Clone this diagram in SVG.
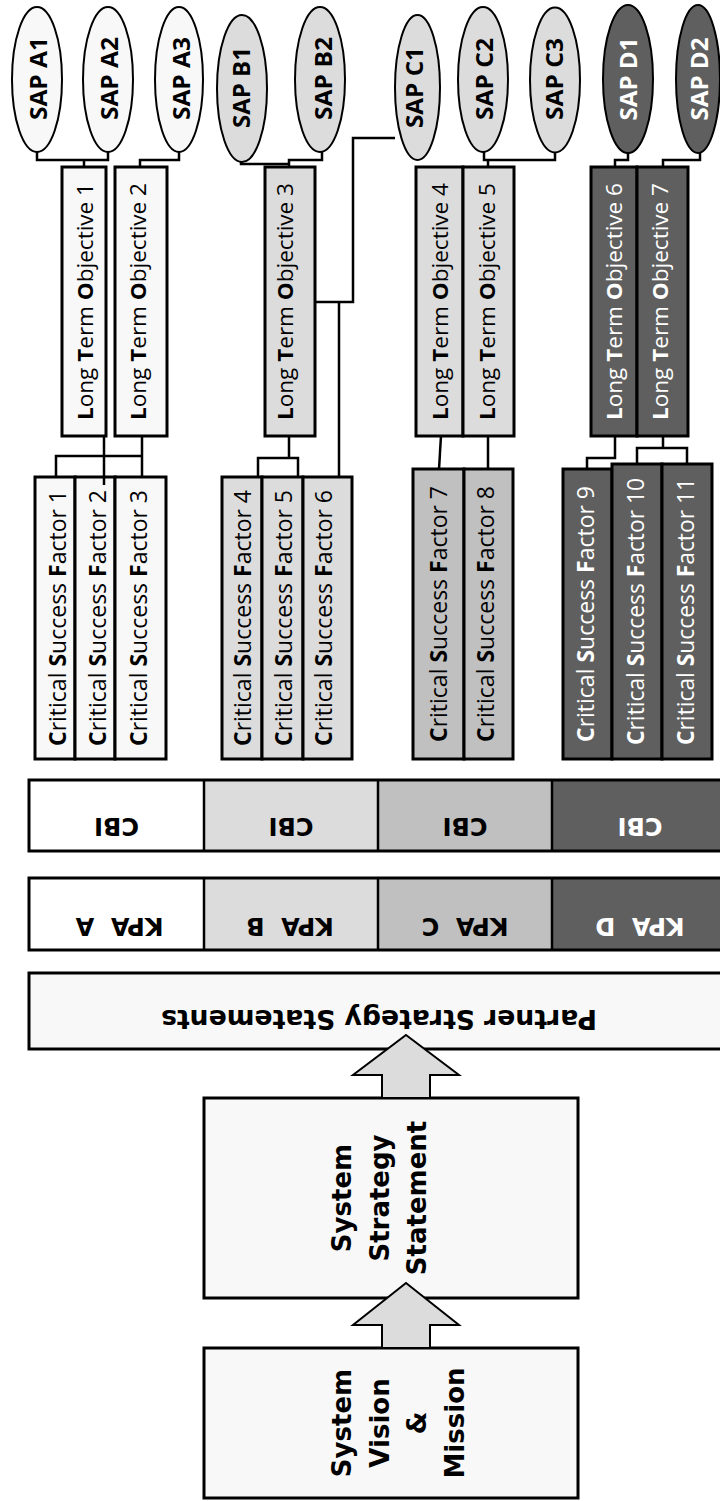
<svg xmlns="http://www.w3.org/2000/svg" width="720" height="1501" viewBox="0 0 720 1501">
<style>
.sap{stroke:#000;stroke-width:2}
.box{stroke:#000;stroke-width:3}
.div{stroke:#000;stroke-width:2.5}
.fa{fill:#f8f8f8}.fb{fill:#dcdcdc}.fc{fill:#c0c0c0}.fd{fill:#5f5f5f}.fw{fill:#fff}
.ts{font-family:"Open Sans","Liberation Sans",sans-serif;font-size:23px;font-weight:bold;text-anchor:middle}
.tl{font-family:"Open Sans","Liberation Sans",sans-serif;font-size:21.5px;text-anchor:middle}
.tc{font-family:"Open Sans","Liberation Sans",sans-serif;font-size:23px;text-anchor:middle}
.b{font-weight:bold}
.w{fill:#fff}
.k{font-family:"DejaVu Sans","Verdana",sans-serif;font-weight:bold;font-size:24px;text-anchor:middle}
.p{font-family:"DejaVu Sans","Verdana",sans-serif;font-weight:bold;font-size:26px;text-anchor:middle}
.con{fill:none;stroke:#000;stroke-width:2.5}
.arr{fill:#dcdcdc;stroke:#000;stroke-width:2}
</style>

<g id="sap-a1"><ellipse class="sap fa" cx="37" cy="79.5" rx="25" ry="72.5"/><text class="ts" transform="translate(47,78.5) rotate(-90)" textLength="83" lengthAdjust="spacingAndGlyphs">SAP A1</text></g>
<g id="sap-a2"><ellipse class="sap fa" cx="108" cy="79.5" rx="25" ry="72.5"/><text class="ts" transform="translate(118,78.5) rotate(-90)" textLength="83" lengthAdjust="spacingAndGlyphs">SAP A2</text></g>
<g id="sap-a3"><ellipse class="sap fa" cx="179" cy="79.5" rx="24" ry="72.5"/><text class="ts" transform="translate(190,78.5) rotate(-90)" textLength="83" lengthAdjust="spacingAndGlyphs">SAP A3</text></g>
<g id="sap-b1"><ellipse class="sap fb" cx="242" cy="88.5" rx="25" ry="73.5"/><text class="ts" transform="translate(250,87.5) rotate(-90)" textLength="81" lengthAdjust="spacingAndGlyphs">SAP B1</text></g>
<g id="sap-b2"><ellipse class="sap fb" cx="320" cy="79.5" rx="25" ry="72.5"/><text class="ts" transform="translate(332,78.5) rotate(-90)" textLength="83" lengthAdjust="spacingAndGlyphs">SAP B2</text></g>
<g id="sap-c1"><ellipse class="sap fb" cx="417.5" cy="87.5" rx="22.5" ry="72.5"/><text class="ts" transform="translate(423,87.5) rotate(-90)" textLength="81" lengthAdjust="spacingAndGlyphs">SAP C1</text></g>
<g id="sap-c2"><ellipse class="sap fb" cx="483" cy="79.5" rx="25" ry="72.5"/><text class="ts" transform="translate(493,79) rotate(-90)" textLength="82" lengthAdjust="spacingAndGlyphs">SAP C2</text></g>
<g id="sap-c3"><ellipse class="sap fb" cx="555" cy="80" rx="25" ry="72.5"/><text class="ts" transform="translate(563,79) rotate(-90)" textLength="82" lengthAdjust="spacingAndGlyphs">SAP C3</text></g>
<g id="sap-d1"><ellipse class="sap fd" cx="628" cy="79" rx="25" ry="74"/><text class="ts w" transform="translate(637,79) rotate(-90)" textLength="83" lengthAdjust="spacingAndGlyphs">SAP D1</text></g>
<g id="sap-d2"><ellipse class="sap fd" cx="698" cy="79" rx="22" ry="74"/><text class="ts w" transform="translate(708,79) rotate(-90)" textLength="83" lengthAdjust="spacingAndGlyphs">SAP D2</text></g>

<g id="lto1"><rect class="box fa" x="62" y="167" width="44" height="269"/><text class="tl" transform="translate(93,301.5) rotate(-90)" textLength="237" lengthAdjust="spacingAndGlyphs"><tspan class="b">L</tspan>ong <tspan class="b">T</tspan>erm <tspan class="b">O</tspan>bjective 1</text></g>
<g id="lto2"><rect class="box fa" x="115" y="167" width="52" height="269"/><text class="tl" transform="translate(146,301.5) rotate(-90)" textLength="237" lengthAdjust="spacingAndGlyphs"><tspan class="b">L</tspan>ong <tspan class="b">T</tspan>erm <tspan class="b">O</tspan>bjective 2</text></g>
<g id="lto3"><rect class="box fb" x="265" y="167" width="50" height="269"/><text class="tl" transform="translate(293,301.5) rotate(-90)" textLength="237" lengthAdjust="spacingAndGlyphs"><tspan class="b">L</tspan>ong <tspan class="b">T</tspan>erm <tspan class="b">O</tspan>bjective 3</text></g>
<g id="lto4"><rect class="box fb" x="416" y="167" width="47" height="269"/><text class="tl" transform="translate(448,301.5) rotate(-90)" textLength="237" lengthAdjust="spacingAndGlyphs"><tspan class="b">L</tspan>ong <tspan class="b">T</tspan>erm <tspan class="b">O</tspan>bjective 4</text></g>
<g id="lto5"><rect class="box fb" x="463" y="167" width="51" height="269"/><text class="tl" transform="translate(495,301.5) rotate(-90)" textLength="237" lengthAdjust="spacingAndGlyphs"><tspan class="b">L</tspan>ong <tspan class="b">T</tspan>erm <tspan class="b">O</tspan>bjective 5</text></g>
<g id="lto6"><rect class="box fd" x="591" y="167" width="46" height="269"/><text class="tl w" transform="translate(622,301.5) rotate(-90)" textLength="237" lengthAdjust="spacingAndGlyphs"><tspan class="b">L</tspan>ong <tspan class="b">T</tspan>erm <tspan class="b">O</tspan>bjective 6</text></g>
<g id="lto7"><rect class="box fd" x="637" y="167" width="51" height="269"/><text class="tl w" transform="translate(668,301.5) rotate(-90)" textLength="237" lengthAdjust="spacingAndGlyphs"><tspan class="b">L</tspan>ong <tspan class="b">T</tspan>erm <tspan class="b">O</tspan>bjective 7</text></g>

<g id="csf1"><rect class="box fa" x="35" y="477" width="40" height="282"/><text class="tc" transform="translate(66,618) rotate(-90)" textLength="256" lengthAdjust="spacingAndGlyphs"><tspan class="b">C</tspan>ritical <tspan class="b">S</tspan>uccess <tspan class="b">F</tspan>actor 1</text></g>
<g id="csf2"><rect class="box fa" x="75" y="477" width="40" height="282"/><text class="tc" transform="translate(106,618) rotate(-90)" textLength="256" lengthAdjust="spacingAndGlyphs"><tspan class="b">C</tspan>ritical <tspan class="b">S</tspan>uccess <tspan class="b">F</tspan>actor 2</text></g>
<g id="csf3"><rect class="box fa" x="115" y="477" width="51" height="282"/><text class="tc" transform="translate(147,618) rotate(-90)" textLength="256" lengthAdjust="spacingAndGlyphs"><tspan class="b">C</tspan>ritical <tspan class="b">S</tspan>uccess <tspan class="b">F</tspan>actor 3</text></g>
<g id="csf4"><rect class="box fb" x="222" y="477" width="40" height="282"/><text class="tc" transform="translate(251,618) rotate(-90)" textLength="256" lengthAdjust="spacingAndGlyphs"><tspan class="b">C</tspan>ritical <tspan class="b">S</tspan>uccess <tspan class="b">F</tspan>actor 4</text></g>
<g id="csf5"><rect class="box fb" x="262" y="477" width="41" height="282"/><text class="tc" transform="translate(292,618) rotate(-90)" textLength="256" lengthAdjust="spacingAndGlyphs"><tspan class="b">C</tspan>ritical <tspan class="b">S</tspan>uccess <tspan class="b">F</tspan>actor 5</text></g>
<g id="csf6"><rect class="box fb" x="303" y="477" width="49" height="282"/><text class="tc" transform="translate(332,618) rotate(-90)" textLength="256" lengthAdjust="spacingAndGlyphs"><tspan class="b">C</tspan>ritical <tspan class="b">S</tspan>uccess <tspan class="b">F</tspan>actor 6</text></g>
<g id="csf7"><rect class="box fc" x="413" y="469" width="51" height="290"/><text class="tc" transform="translate(447,614) rotate(-90)" textLength="256" lengthAdjust="spacingAndGlyphs"><tspan class="b">C</tspan>ritical <tspan class="b">S</tspan>uccess <tspan class="b">F</tspan>actor 7</text></g>
<g id="csf8"><rect class="box fc" x="464" y="469" width="49" height="290"/><text class="tc" transform="translate(494,614) rotate(-90)" textLength="256" lengthAdjust="spacingAndGlyphs"><tspan class="b">C</tspan>ritical <tspan class="b">S</tspan>uccess <tspan class="b">F</tspan>actor 8</text></g>
<g id="csf9"><rect class="box fd" x="563" y="469" width="49" height="290"/><text class="tc w" transform="translate(594,614) rotate(-90)" textLength="256" lengthAdjust="spacingAndGlyphs"><tspan class="b">C</tspan>ritical <tspan class="b">S</tspan>uccess <tspan class="b">F</tspan>actor 9</text></g>
<g id="csf10"><rect class="box fd" x="612" y="464" width="50" height="295"/><text class="tc w" transform="translate(644,611.5) rotate(-90)" textLength="267" lengthAdjust="spacingAndGlyphs"><tspan class="b">C</tspan>ritical <tspan class="b">S</tspan>uccess <tspan class="b">F</tspan>actor 10</text></g>
<g id="csf11"><rect class="box fd" x="662" y="464" width="50" height="295"/><text class="tc w" transform="translate(694,611.5) rotate(-90)" textLength="267" lengthAdjust="spacingAndGlyphs"><tspan class="b">C</tspan>ritical <tspan class="b">S</tspan>uccess <tspan class="b">F</tspan>actor 11</text></g>

<g id="cbi-row">
<rect class="fw" x="29" y="780" width="175" height="71"/>
<rect class="fb" x="204" y="780" width="174" height="71"/>
<rect class="fc" x="378" y="780" width="174" height="71"/>
<rect class="fd" x="552" y="780" width="176" height="71"/>
<line class="div" x1="204" y1="780" x2="204" y2="851"/>
<line class="div" x1="378" y1="780" x2="378" y2="851"/>
<line class="div" x1="552" y1="780" x2="552" y2="851"/>
<rect class="box" fill="none" x="29" y="780" width="699" height="71"/>
<text class="k" transform="translate(116.5,818) rotate(180)">CBI</text>
<text class="k" transform="translate(291,818) rotate(180)">CBI</text>
<text class="k" transform="translate(465,818) rotate(180)">CBI</text>
<text class="k w" transform="translate(640,818) rotate(180)">CBI</text>
</g>

<g id="kpa-row">
<rect class="fw" x="29" y="878" width="175" height="72"/>
<rect class="fb" x="204" y="878" width="174" height="72"/>
<rect class="fc" x="378" y="878" width="174" height="72"/>
<rect class="fd" x="552" y="878" width="176" height="72"/>
<line class="div" x1="204" y1="878" x2="204" y2="950"/>
<line class="div" x1="378" y1="878" x2="378" y2="950"/>
<line class="div" x1="552" y1="878" x2="552" y2="950"/>
<rect class="box" fill="none" x="29" y="878" width="699" height="72"/>
<text class="k" xml:space="preserve" transform="translate(119.5,918) rotate(180)">KPA  A</text>
<text class="k" xml:space="preserve" transform="translate(290,918) rotate(180)">KPA  B</text>
<text class="k" xml:space="preserve" transform="translate(465,918) rotate(180)">KPA  C</text>
<text class="k w" xml:space="preserve" transform="translate(640,918) rotate(180)">KPA  D</text>
</g>

<g id="partner">
<rect class="box fa" x="29" y="973" width="699" height="76"/>
<text class="p" transform="translate(379,1010) rotate(180)" textLength="436" lengthAdjust="spacingAndGlyphs">Partner Strategy Statements</text>
</g>

<g id="sss">
<rect class="box fa" x="204" y="1098" width="374" height="200"/>
<text class="p" transform="translate(351,1198) rotate(-90)">System</text>
<text class="p" transform="translate(388.5,1198) rotate(-90)">Strategy</text>
<text class="p" transform="translate(426,1198) rotate(-90)">Statement</text>
</g>

<g id="vision">
<rect class="box fa" x="204" y="1348" width="374" height="150"/>
<text class="p" transform="translate(351,1423) rotate(-90)">System</text>
<text class="p" transform="translate(388.5,1423) rotate(-90)">Vision</text>
<text class="p" transform="translate(426,1423) rotate(-90)">&amp;</text>
<text class="p" transform="translate(463.5,1423) rotate(-90)">Mission</text>
</g>

<g id="connectors">
<path class="con" d="M37,152 V160 H108 V152 M84,160 V167"/>
<path class="con" d="M179,152 V160 H140 V167"/>
<path class="con" d="M241,162 V164 H289 M322,152 V160 H289 V167"/>
<path class="con" d="M395,138 H353 V302 H315 M339,302 V477"/>
<path class="con" d="M484,152 V160 H555 V153 M488,160 V167"/>
<path class="con" d="M628,153 V160 H615 V167"/>
<path class="con" d="M700,153 V160 H663 V167"/>
<path class="con" d="M104,436 V485"/>
<path class="con" d="M142,436 V477 M56,477 V456 H142"/>
<path class="con" d="M289,436 V458 M258,477 V458 H298 V477"/>
<path class="con" d="M441,436 L439,469"/>
<path class="con" d="M488,436 V469"/>
<path class="con" d="M615,436 V458 H587 V469"/>
<path class="con" d="M663,436 V448 M637,464 V448 H687 V464"/>
<polygon class="arr" points="406,1035 459,1075 430,1075 430,1098 382,1098 382,1075 353,1075"/>
<polygon class="arr" points="406,1283 459,1325 430,1325 430,1348 382,1348 382,1325 353,1325"/>
</g>
</svg>
